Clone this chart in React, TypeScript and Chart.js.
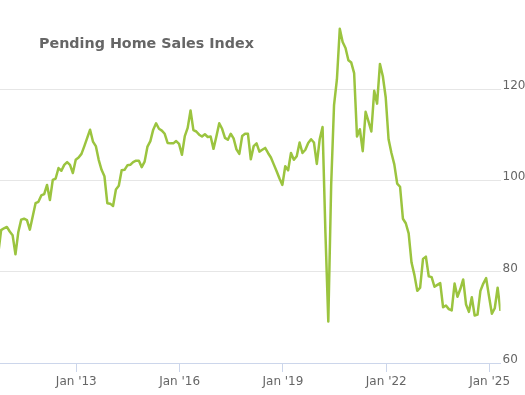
import React, { useEffect, useRef } from "react";
import { Chart, registerables } from "chart.js";

Chart.register(...registerables);

const TITLE = "Pending Home Sales Index";
const BASE_YEAR = 2010;
// Monthly index values (first array starts in September 2010)
const FIRST_MONTH_2010 = 8;
const v2010 = [84.0, 89.1, 89.5, 89.8];
const v2011 = [88.8, 88.0, 83.8, 88.7, 91.4, 91.6, 91.3, 89.2, 92.1, 95.0, 95.3, 96.7];
const v2012 = [97.0, 99.0, 95.7, 100.1, 100.4, 102.7, 102.1, 103.4, 104.0, 103.4, 101.6, 104.5];
const v2013 = [105.0, 105.8, 107.5, 109.3, 111.1, 108.5, 107.5, 104.5, 102.3, 100.9, 95.0, 94.9];
const v2014 = [94.4, 98.0, 98.8, 102.2, 102.3, 103.3, 103.4, 104.0, 104.3, 104.3, 102.9, 104.1];
const v2015 = [107.4, 108.6, 111.1, 112.5, 111.3, 110.9, 110.2, 108.2, 108.1, 108.1, 108.6, 108.0];
const v2016 = [105.6, 109.7, 111.5, 115.3, 111.0, 110.7, 110.0, 109.6, 110.1, 109.5, 109.6, 106.9];
const v2017 = [109.6, 112.5, 111.3, 109.3, 108.9, 110.2, 109.2, 106.8, 105.8, 109.7, 110.2, 110.2];
const v2018 = [104.6, 107.5, 108.1, 106.3, 106.7, 107.1, 106.0, 105.0, 103.5, 102.0, 100.4, 99.0];
const v2019 = [103.1, 102.2, 106.0, 104.5, 105.3, 108.3, 106.0, 106.7, 108.2, 109.0, 108.3, 103.6];
const v2020 = [109.0, 111.7, 88.5, 69.1, 99.0, 116.5, 122.1, 133.2, 130.3, 129.0, 126.3, 125.8];
const v2021 = [123.5, 109.6, 111.2, 106.4, 115.0, 112.9, 110.7, 119.6, 116.8, 125.5, 122.8, 118.2];
const v2022 = [109.0, 106.0, 103.5, 99.3, 98.6, 91.6, 90.6, 88.4, 82.0, 79.3, 75.8, 76.5];
const v2023 = [82.8, 83.3, 79.0, 78.8, 76.7, 77.1, 77.5, 72.2, 72.6, 71.8, 71.5, 77.4];
const v2024 = [74.5, 76.2, 78.3, 72.8, 71.2, 74.4, 70.4, 70.6, 75.8, 77.4, 78.6, 74.6];
const v2025 = [70.8, 72.0, 76.5, 71.4];

const TICK_YEARS = [2013, 2016, 2019, 2022, 2025];
const TICK_LABELS = ["Jan '13", "Jan '16", "Jan '19", "Jan '22", "Jan '25"];
const Y_TICKS = [60, 80, 100, 120];

// points are dated late in the month (fraction of a month after the 1st)
const POINT_OFFSET = 0.8;
const X_MIN = 9.41;
const X_MAX = 183.8;
const Y_MIN = 60;
const Y_MAX = 139.5;

const LINE_COLOR = "#9bc43f";
const TEXT_COLOR = "#666666";
const FONT = "'DejaVu Sans', Verdana, sans-serif";

function buildPoints() {
  const years: [number, number[], number][] = [
    [2010, v2010, FIRST_MONTH_2010],
    [2011, v2011, 0], [2012, v2012, 0], [2013, v2013, 0], [2014, v2014, 0],
    [2015, v2015, 0], [2016, v2016, 0], [2017, v2017, 0], [2018, v2018, 0],
    [2019, v2019, 0], [2020, v2020, 0], [2021, v2021, 0], [2022, v2022, 0],
    [2023, v2023, 0], [2024, v2024, 0], [2025, v2025, 0],
  ];
  const pts: { x: number; y: number }[] = [];
  for (const [yr, vals, start] of years) {
    vals.forEach((v, k) => {
      pts.push({ x: (yr - BASE_YEAR) * 12 + start + k + POINT_OFFSET, y: v });
    });
  }
  return pts;
}

export default function App() {
  const ref = useRef<HTMLCanvasElement>(null);
  useEffect(() => {
    const tickVals = TICK_YEARS.map((y) => (y - BASE_YEAR) * 12);
    const chart = new Chart(ref.current!, {
      type: "line",
      data: {
        datasets: [
          {
            data: buildPoints(),
            borderColor: LINE_COLOR,
            borderWidth: 2.5,
            pointRadius: 0,
            tension: 0,
            fill: false,
            borderJoinStyle: "round",
          },
        ],
      },
      options: {
        animation: false,
        responsive: false,
        maintainAspectRatio: false,
        layout: { padding: 0 },
        plugins: {
          legend: { display: false },
          tooltip: { enabled: false },
          title: { display: false },
        },
        scales: {
          x: {
            type: "linear",
            min: X_MIN,
            max: X_MAX,
            afterBuildTicks: (s: any) => {
              s.ticks = tickVals.map((v) => ({ value: v }));
            },
            afterFit: (s: any) => {
              s.height = 32;
              s.paddingLeft = 0;
              s.paddingRight = 0;
            },
            ticks: {
              autoSkip: false,
              maxRotation: 0,
              padding: 3,
              color: TEXT_COLOR,
              font: { family: FONT, size: 12 },
              callback: (value: any) => {
                const k = tickVals.indexOf(Number(value));
                return k >= 0 ? TICK_LABELS[k] : "";
              },
            },
            grid: {
              drawOnChartArea: false,
              drawTicks: true,
              tickLength: 9,
              color: "#ccd6eb",
            },
            border: { display: true, color: "#ccd6eb", width: 1 },
          },
          y: {
            type: "linear",
            position: "right",
            min: Y_MIN,
            max: Y_MAX,
            afterBuildTicks: (s: any) => {
              s.ticks = Y_TICKS.map((v) => ({ value: v }));
            },
            afterFit: (s: any) => {
              s.width = 24.5;
              s.paddingTop = 0;
              s.paddingBottom = 0;
            },
            ticks: {
              padding: 2,
              labelOffset: -3,
              color: TEXT_COLOR,
              font: { family: FONT, size: 12 },
            },
            grid: {
              drawTicks: false,
              color: (c: any) => (c.tick && c.tick.value === Y_MIN ? "rgba(0,0,0,0)" : "#e6e6e6"),
            },
            border: { display: false },
          },
        },
      },
    } as any);
    return () => chart.destroy();
  }, []);

  return (
    <div style={{ position: "fixed", left: 0, top: 0, width: 525, height: 395, background: "#ffffff" }}>
      <canvas ref={ref} width={525} height={395} style={{ width: 525, height: 395, display: "block" }} />
      <div
        style={{
          position: "absolute",
          left: 39,
          top: 36,
          fontFamily: FONT,
          fontWeight: "bold",
          fontSize: 14.3,
          lineHeight: "14px",
          color: TEXT_COLOR,
          whiteSpace: "nowrap",
        }}
      >
        {TITLE}
      </div>
    </div>
  );
}
